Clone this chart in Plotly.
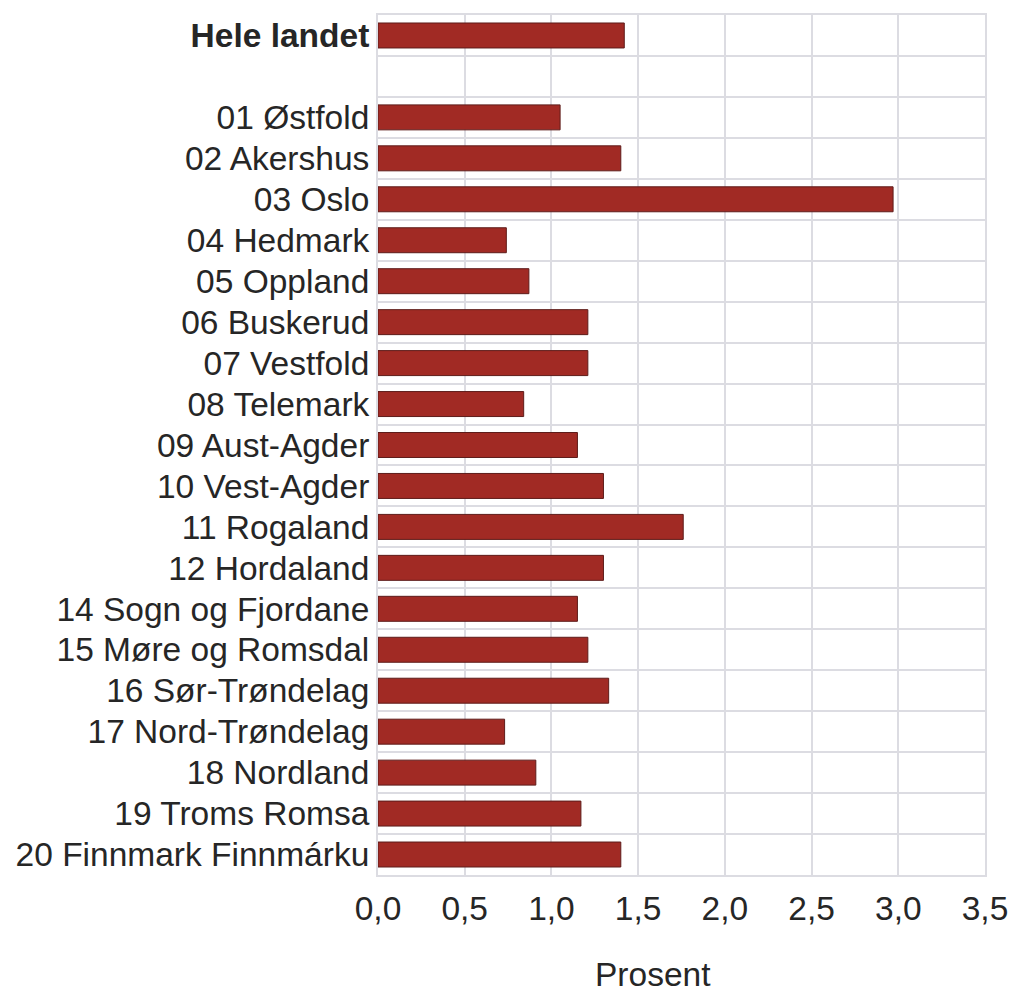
import plotly.graph_objects as go

categories = ["<b>Hele landet</b>", " ", "01 Østfold", "02 Akershus", "03 Oslo", "04 Hedmark",
              "05 Oppland", "06 Buskerud", "07 Vestfold", "08 Telemark", "09 Aust-Agder",
              "10 Vest-Agder", "11 Rogaland", "12 Hordaland", "14 Sogn og Fjordane",
              "15 Møre og Romsdal", "16 Sør-Trøndelag", "17 Nord-Trøndelag", "18 Nordland",
              "19 Troms Romsa", "20 Finnmark Finnmárku"]
values = [1.42, None, 1.05, 1.40, 2.97, 0.74, 0.87, 1.21, 1.21, 0.84, 1.15,
          1.30, 1.76, 1.30, 1.15, 1.21, 1.33, 0.73, 0.91, 1.17, 1.40]
x_tickvals = [0, 0.5, 1.0, 1.5, 2.0, 2.5, 3.0, 3.5]
x_ticktext = ["0,0", "0,5", "1,0", "1,5", "2,0", "2,5", "3,0", "3,5"]
x_title = "Prosent"

FONT = "Liberation Sans, Arial, sans-serif"
FS = 33.5
GRID = "#dcdce2"
TXT = "#262626"

fig = go.Figure(go.Bar(
    x=values, y=categories, orientation="h",
    marker=dict(color="#a12a24", line=dict(color="#5e1c1a", width=1)),
))

fig.update_layout(
    width=1012, height=995,
    margin=dict(l=378, r=27, t=15, b=120, autoexpand=False),
    paper_bgcolor="white", plot_bgcolor="white",
    bargap=0.39,
    showlegend=False,
    font=dict(family=FONT, size=FS, color=TXT),
)
fig.update_xaxes(
    range=[0, 3.5], tickvals=x_tickvals, ticktext=x_ticktext,
    showgrid=True, gridcolor=GRID, gridwidth=2, zeroline=False,
    showline=True, linecolor=GRID, linewidth=2, mirror=True,
    ticks="", ticklabelstandoff=3, automargin=False,
    tickfont=dict(family=FONT, size=FS, color=TXT),
)
fig.update_yaxes(
    categoryorder="array", categoryarray=categories, autorange="reversed",
    tickson="boundaries", showgrid=True, gridcolor=GRID, gridwidth=2,
    showline=True, linecolor=GRID, linewidth=2, mirror=True,
    ticks="", ticklabelstandoff=0, automargin=False,
    tickfont=dict(family=FONT, size=FS, color=TXT),
)
fig.add_annotation(
    text=x_title, xref="paper", yref="paper", x=0.453, y=0, yshift=-119,
    showarrow=False, xanchor="center", yanchor="bottom", borderpad=0,
    font=dict(family=FONT, size=FS, color=TXT),
)

fig.write_html("out.html", config={"displayModeBar": False},
               post_script="document.body.style.margin='0';")
